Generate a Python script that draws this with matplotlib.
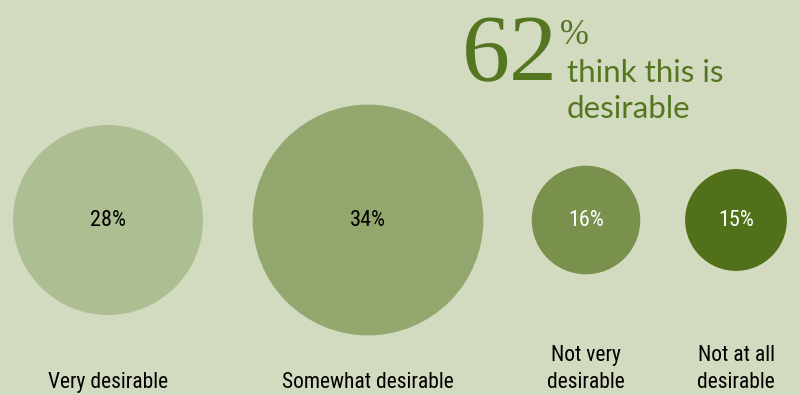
import matplotlib.pyplot as plt
from matplotlib.patches import Circle
from matplotlib import font_manager

# Survey shares
categories = ['Very desirable', 'Somewhat desirable', 'Not very\ndesirable', 'Not at all\ndesirable']
values = [28, 34, 16, 15]
total_desirable = 62

# Layout and styling
x_pos = [108, 368, 586, 736]
colors = ['#adbe92', '#94a76e', '#7a914e', '#50711a']
text_colors = ['black', 'black', 'white', 'white']
bg = '#d2dac0'
green = '#557620'
px_per_pct = 95 / 28

# pick a condensed sans if one is installed
narrow = None
for key in ['RobotoCondensed-Regular', 'OpenSans_Condensed-Regular', 'OpenSansCondensed',
            'NotoSans-Condensed.', 'NotoSans-CondensedRegular', 'DejaVuSansCondensed.',
            'LiberationSansNarrow-Regular', 'Condensed-Regular', 'Condensed.ttf']:
    for f in font_manager.fontManager.ttflist:
        if key in f.fname.replace(' ', ''):
            narrow = font_manager.FontProperties(fname=f.fname)
            break
    if narrow is not None:
        break
if narrow is None:
    narrow = font_manager.FontProperties(family='DejaVu Sans')

fig = plt.figure(figsize=(7.99, 3.95), dpi=100, facecolor=bg)
ax = fig.add_axes([0, 0, 1, 1])
ax.set_facecolor(bg)
ax.set_xlim(0, 799)
ax.set_ylim(395, 0)
ax.set_aspect('equal')
ax.axis('off')

cy = 220
for x, v, c, tc, lab in zip(x_pos, values, colors, text_colors, categories):
    ax.add_patch(Circle((x, cy), v * px_per_pct, color=c, lw=0))
    ax.text(x, cy + 1, f'{v}%', ha='center', va='center', color=tc,
            fontsize=16, fontproperties=narrow)
    ax.text(x, 393, lab, ha='center', va='bottom', color='black',
            fontsize=15.5, fontproperties=narrow, linespacing=1.35)

# Headline figure
ax.text(462, 81, str(total_desirable), color=green, fontsize=69,
        family='Liberation Serif', ha='left', va='baseline')
ax.text(560, 44, '%', color=green, fontsize=25,
        family='Liberation Serif', ha='left', va='baseline')
ax.text(567, 82, 'think this is', color=green, fontsize=22.5,
        family='Lato', ha='left', va='baseline')
ax.text(567, 118, 'desirable', color=green, fontsize=22.5,
        family='Lato', ha='left', va='baseline')

plt.savefig('out.png', dpi=100, facecolor=bg)
